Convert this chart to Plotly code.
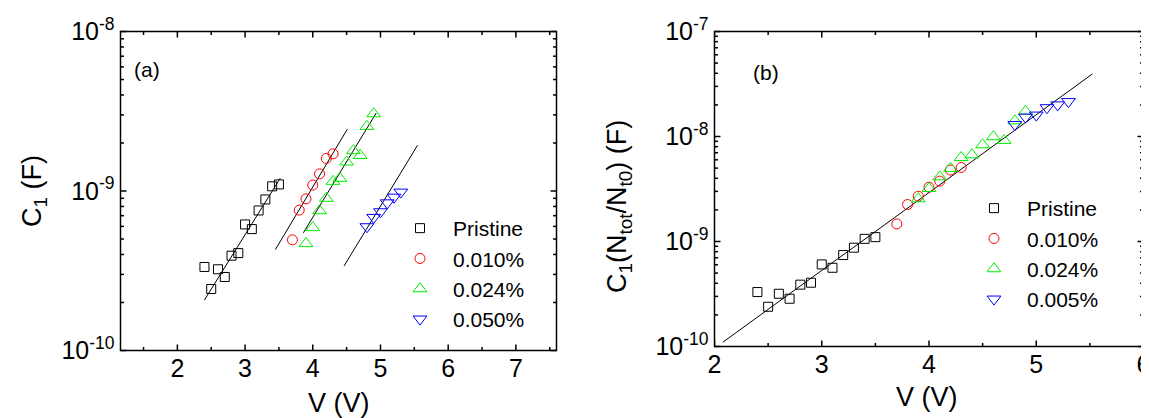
import math
import plotly.graph_objects as go

# ---------------- data ----------------
V_pristine = [2.4, 2.5, 2.6, 2.7, 2.8, 2.9, 3.0, 3.1, 3.2, 3.3, 3.4, 3.5]
V_010 = [3.7, 3.8, 3.9, 4.0, 4.1, 4.2, 4.3]
V_024 = [3.9, 4.0, 4.1, 4.2, 4.3, 4.4, 4.5, 4.6, 4.7, 4.8, 4.9]
V_050 = [4.8, 4.9, 5.0, 5.1, 5.2, 5.3]

# panel (a): C1 (F)
C1_pristine = [3.34e-10, 2.43e-10, 3.23e-10, 2.89e-10, 3.93e-10, 4.08e-10,
               6.17e-10, 5.77e-10, 7.55e-10, 8.85e-10, 1.07e-9, 1.10e-9]
C1_010 = [4.94e-10, 7.59e-10, 8.93e-10, 1.09e-9, 1.28e-9, 1.60e-9, 1.71e-9]
C1_024 = [4.68e-10, 5.89e-10, 7.52e-10, 9.00e-10, 1.15e-9, 1.20e-9,
          1.52e-9, 1.79e-9, 1.67e-9, 2.54e-9, 3.05e-9]
C1_050 = [5.97e-10, 6.83e-10, 7.41e-10, 8.43e-10, 9.15e-10, 9.84e-10]

# panel (b): C1 (Ntot/Nt0) (F)
C1s_pristine = [3.30e-10, 2.39e-10, 3.18e-10, 2.85e-10, 3.88e-10, 4.05e-10,
                6.05e-10, 5.62e-10, 7.43e-10, 8.73e-10, 1.06e-9, 1.10e-9]
C1s_010 = [1.47e-9, 2.25e-9, 2.70e-9, 3.29e-9, 3.76e-9, 4.79e-9, 5.07e-9]
C1s_024 = [2.55e-9, 3.20e-9, 4.13e-9, 4.97e-9, 6.31e-9, 6.70e-9,
           8.34e-9, 9.95e-9, 9.18e-9, 1.41e-8, 1.74e-8]
C1s_005 = [1.30e-8, 1.53e-8, 1.60e-8, 1.88e-8, 2.00e-8, 2.15e-8]

names_a = ["Pristine", "0.010%", "0.024%", "0.050%"]
names_b = ["Pristine", "0.010%", "0.024%", "0.005%"]

# linear fits of log10(C) vs V
fit_a_slope = [0.682, 0.710, 0.698, 0.697]
fit_a_icpt = [-11.320, -11.815, -11.957, -12.580]
fit_a_vstart = [2.40, 3.447, 3.861, 4.462]
fit_a_vend = [3.52, 4.511, 4.937, 5.548]
fit_b_slope = 0.7415
fit_b_icpt = -11.500
fit_b_vstart = 2.078
fit_b_vend = 5.524

x_ticks_a = [2, 3, 4, 5, 6, 7]
x_ticks_b = [2, 3, 4, 5, 6]
y_exp_a = [-10, -9, -8]
y_exp_b = [-10, -9, -8, -7]

# ---------------- style ----------------
FONT = "Liberation Sans"
colors = ["#000000", "#ff0000", "#00ee00", "#0000ff"]
symbols = ["square-open", "circle-open", "triangle-up-open", "triangle-down-open"]
msizes = [9, 10, 12, 12]

W, H = 1149, 418
# plot-area pixel boxes (left, right, top, bottom), edges on pixel centres
box_a = (112.5, 548.5, 23.5, 342.5)
box_b = (706.5, 1135.5, 23.5, 338.5)
xr_a, yr_a = (1.16, 7.6), (-10, -8)
xr_b, yr_b = (2.0, 6.0), (-10, -7)


def px_x(p):
    return p / W


def px_y(p):
    return 1 - p / H


fig = go.Figure()
sets_a = [(V_pristine, C1_pristine), (V_010, C1_010), (V_024, C1_024), (V_050, C1_050)]
sets_b = [(V_pristine, C1s_pristine), (V_010, C1s_010), (V_024, C1s_024), (V_050, C1s_005)]

for i in range(4):
    v0, v1 = fit_a_vstart[i], fit_a_vend[i]
    fig.add_trace(go.Scatter(
        x=[v0, v1],
        y=[10 ** (fit_a_icpt[i] + fit_a_slope[i] * v0), 10 ** (fit_a_icpt[i] + fit_a_slope[i] * v1)],
        mode="lines", line=dict(color="black", width=1), showlegend=False,
        xaxis="x", yaxis="y", hoverinfo="skip"))
fig.add_trace(go.Scatter(
    x=[fit_b_vstart, fit_b_vend],
    y=[10 ** (fit_b_icpt + fit_b_slope * fit_b_vstart), 10 ** (fit_b_icpt + fit_b_slope * fit_b_vend)],
    mode="lines", line=dict(color="black", width=1), showlegend=False,
    xaxis="x2", yaxis="y2", hoverinfo="skip"))

for i, (xv, yv) in enumerate(sets_a):
    fig.add_trace(go.Scatter(
        x=xv, y=yv, mode="markers", name=names_a[i],
        marker=dict(symbol=symbols[i], size=msizes[i], color=colors[i], line=dict(width=1, color=colors[i])),
        xaxis="x", yaxis="y", legend="legend"))
for i, (xv, yv) in enumerate(sets_b):
    fig.add_trace(go.Scatter(
        x=xv, y=yv, mode="markers", name=names_b[i],
        marker=dict(symbol=symbols[i], size=msizes[i], color=colors[i], line=dict(width=1, color=colors[i])),
        xaxis="x2", yaxis="y2", legend="legend2"))


def frame_shapes(xname, yname, box, xr, yr, xmajor, yexp):
    """Frame and inward ticks (all four sides) drawn as shapes on the subplot."""
    l, r, t, b = box
    wpx, hpx = r - l, b - t
    shapes = [dict(type="rect", xref=xname + " domain", yref=yname + " domain",
                   x0=0, x1=1, y0=0, y1=1, layer="above",
                   line=dict(color="black", width=1.5), fillcolor="rgba(0,0,0,0)")]
    xminor = []
    k = int(math.floor(xr[0] * 2))
    while k / 2.0 <= xr[1] + 1e-9:
        v = k / 2.0
        if xr[0] < v < xr[1] and abs(v - round(v)) > 1e-6:
            xminor.append(v)
        k += 1
    for vals, ln in ((xmajor, 6.0), (xminor, 3.5)):
        f = ln / hpx
        for v in vals:
            for y0, y1 in ((0, f), (1, 1 - f)):
                shapes.append(dict(type="line", xref=xname, yref=yname + " domain",
                                   x0=v, x1=v, y0=y0, y1=y1, layer="above",
                                   line=dict(color="black", width=1.5)))
    ymajor = [(e - yr[0]) / (yr[1] - yr[0]) for e in yexp]
    yminor = []
    for e in yexp[:-1]:
        for m in range(2, 10):
            yminor.append((math.log10(m) + e - yr[0]) / (yr[1] - yr[0]))
    for vals, ln in ((ymajor, 6.0), (yminor, 3.5)):
        f = ln / wpx
        for v in vals:
            for x0, x1 in ((0, f), (1, 1 - f)):
                shapes.append(dict(type="line", xref=xname + " domain", yref=yname + " domain",
                                   x0=x0, x1=x1, y0=v, y1=v, layer="above",
                                   line=dict(color="black", width=1.5)))
    return shapes


shapes = frame_shapes("x", "y", box_a, xr_a, yr_a, x_ticks_a, y_exp_a) + \
    frame_shapes("x2", "y2", box_b, xr_b, yr_b, x_ticks_b, y_exp_b)

axis_common = dict(showline=False, ticks="", showgrid=False, zeroline=False,
                   tickfont=dict(family=FONT, size=25, color="black"))

fig.update_layout(
    width=W, height=H, autosize=False,
    margin=dict(l=0, r=0, t=0, b=0, autoexpand=False),
    paper_bgcolor="white", plot_bgcolor="white",
    font=dict(family=FONT, color="black"),
    xaxis=dict(domain=[px_x(box_a[0]), px_x(box_a[1])], range=list(xr_a), anchor="y",
               tickmode="array", tickvals=x_ticks_a, **axis_common),
    yaxis=dict(domain=[px_y(box_a[3]), px_y(box_a[2])], type="log", range=list(yr_a), anchor="x",
               tickmode="array", tickvals=[10.0 ** e for e in y_exp_a],
               ticktext=["10<sup>%d</sup>" % e for e in y_exp_a], ticklabelstandoff=5, **axis_common),
    xaxis2=dict(domain=[px_x(box_b[0]), px_x(box_b[1])], range=list(xr_b), anchor="y2",
                tickmode="array", tickvals=x_ticks_b, **axis_common),
    yaxis2=dict(domain=[px_y(box_b[3]), px_y(box_b[2])], type="log", range=list(yr_b), anchor="x2",
                tickmode="array", tickvals=[10.0 ** e for e in y_exp_b],
                ticktext=["10<sup>%d</sup>" % e for e in y_exp_b], ticklabelstandoff=5, **axis_common),
    legend=dict(x=px_x(379), y=px_y(200), xanchor="left", yanchor="top",
                bgcolor="rgba(0,0,0,0)", font=dict(family=FONT, size=21, color="black"),
                itemwidth=56, tracegroupgap=0),
    legend2=dict(x=px_x(953), y=px_y(180), xanchor="left", yanchor="top",
                 bgcolor="rgba(0,0,0,0)", font=dict(family=FONT, size=21, color="black"),
                 itemwidth=56, tracegroupgap=0),
    shapes=shapes,
    annotations=[
        dict(text="V (V)", x=px_x(330.7), y=px_y(395), xref="paper", yref="paper",
             xanchor="center", yanchor="middle",
             showarrow=False, font=dict(family=FONT, size=27, color="black")),
        dict(text="V (V)", x=px_x(919), y=px_y(389), xref="paper", yref="paper",
             xanchor="center", yanchor="middle",
             showarrow=False, font=dict(family=FONT, size=27, color="black")),
        dict(text="C<sub>1</sub> (F)", x=px_x(26), y=px_y(183), xref="paper", yref="paper",
             xanchor="center", yanchor="middle",
             textangle=-90, showarrow=False, font=dict(family=FONT, size=27, color="black")),
        dict(text="C<sub>1</sub>(N<sub>tot</sub>/N<sub>t0</sub>) (F)", x=px_x(611), y=px_y(199),
             xref="paper", yref="paper", xanchor="center", yanchor="middle",
             textangle=-90, showarrow=False,
             font=dict(family=FONT, size=27, color="black")),
        dict(text="(a)", x=px_x(139), y=px_y(61), xref="paper", yref="paper",
             xanchor="center", yanchor="middle",
             showarrow=False, font=dict(family=FONT, size=21, color="black")),
        dict(text="(b)", x=px_x(758), y=px_y(64), xref="paper", yref="paper",
             xanchor="center", yanchor="middle",
             showarrow=False, font=dict(family=FONT, size=21, color="black")),
    ],
)

fig.write_html("out.html")
